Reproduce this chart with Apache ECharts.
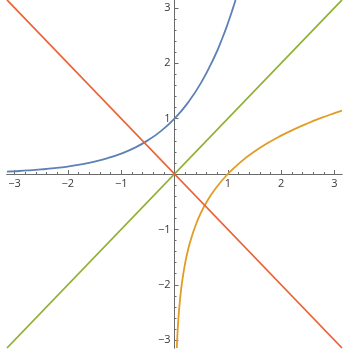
<!DOCTYPE html>
<html>
<head>
<meta charset="utf-8">
<script src="https://cdn.jsdelivr.net/npm/echarts@6/dist/echarts.min.js"></script>
<style>html,body{margin:0;padding:0;background:#fff;}#c{width:350px;height:350px;}</style>
</head>
<body>
<div id="c"></div>
<script>
// Data
var expX = [-3.1416, -3, -2.75, -2.5, -2.25, -2, -1.75, -1.5, -1.25, -1, -0.75, -0.5, -0.25, 0, 0.25, 0.5, 0.75, 0.9, 1, 1.1, 1.145];
var expY = [0.043, 0.050, 0.064, 0.082, 0.105, 0.135, 0.174, 0.223, 0.287, 0.368, 0.472, 0.607, 0.779, 1.0, 1.284, 1.649, 2.117, 2.460, 2.718, 3.004, 3.142];
var logX = [0.0432, 0.05, 0.06, 0.07, 0.08, 0.1, 0.125, 0.15, 0.2, 0.25, 0.3, 0.4, 0.5, 0.6, 0.75, 1, 1.25, 1.5, 1.75, 2, 2.25, 2.5, 2.75, 3, 3.1416];
var logY = [-3.142, -2.996, -2.813, -2.659, -2.526, -2.303, -2.079, -1.897, -1.609, -1.386, -1.204, -0.916, -0.693, -0.511, -0.288, 0, 0.223, 0.405, 0.560, 0.693, 0.811, 0.916, 1.012, 1.099, 1.145];
var idX = [-3.1416, 3.1416];
var idY = [-3.1416, 3.1416];
var negX = [-3.1416, 3.1416];
var negY = [3.1416, -3.1416];
var majorTicks = [-3, -2, -1, 0, 1, 2, 3];
var tickLabels = [-3, -2, -1, 1, 2, 3];

var minorTicks = [];
for (var i = -15; i <= 15; i++) { if (i % 5 !== 0) minorTicks.push(+(i * 0.2).toFixed(1)); }

function pairs(xs, ys) { return xs.map(function (x, i) { return [x, ys[i]]; }); }
var R = 3.1416;
var axisCol = '#6b6b6b';
var lblStyle = { color: '#3a3a3a', fontSize: 11, fontFamily: 'Open Sans' };
function fmt(v) { return String(v).replace('-', '\u2212'); }

var GL = 7, GR = 8, GT = 0, GB = 2, W = 350, H = 350;
var gw = W - GL - GR, gh = H - GT - GB;

function mkAxis(isMajor, dim) {
  return {
    type: 'value', min: -R, max: R,
    position: dim === 'x' ? 'bottom' : 'left',
    offset: dim === 'x' ? -gh / 2 : -gw / 2,
    axisLine: { show: true, onZero: false, lineStyle: { color: axisCol, width: 1 } },
    axisTick: { show: true, inside: true, length: isMajor ? 4 : 2, lineStyle: { color: axisCol, width: 1 },
      customValues: isMajor ? majorTicks : minorTicks },
    axisLabel: isMajor ? Object.assign({ show: true, customValues: tickLabels, formatter: fmt,
      margin: 4 }, lblStyle) : { show: false },
    splitLine: { show: false },
    minorTick: { show: false }
  };
}

var xa0 = mkAxis(true, 'x'), xa1 = mkAxis(false, 'x');
var ya0 = mkAxis(true, 'y'), ya1 = mkAxis(false, 'y');

function line(data, color) {
  return { type: 'line', data: data, showSymbol: false, symbol: 'none', smooth: true, clip: true,
    lineStyle: { color: color, width: 1.8 }, itemStyle: { color: color }, animation: false, silent: true,
    xAxisIndex: 0, yAxisIndex: 0 };
}

var chart = echarts.init(document.getElementById('c'), null, { renderer: 'canvas' });
chart.setOption({
  animation: false,
  backgroundColor: '#fff',
  grid: { left: GL, right: GR, top: GT, bottom: GB, containLabel: false, outerBoundsMode: 'none' },
  xAxis: [xa0, xa1],
  yAxis: [ya0, ya1],
  series: [
    line(pairs(expX, expY), '#5E81B5'),
    line(pairs(logX, logY), '#E19C24'),
    line(pairs(idX, idY), '#8FB032'),
    line(pairs(negX, negY), '#EB6235')
  ]
});
</script>
</body>
</html>
